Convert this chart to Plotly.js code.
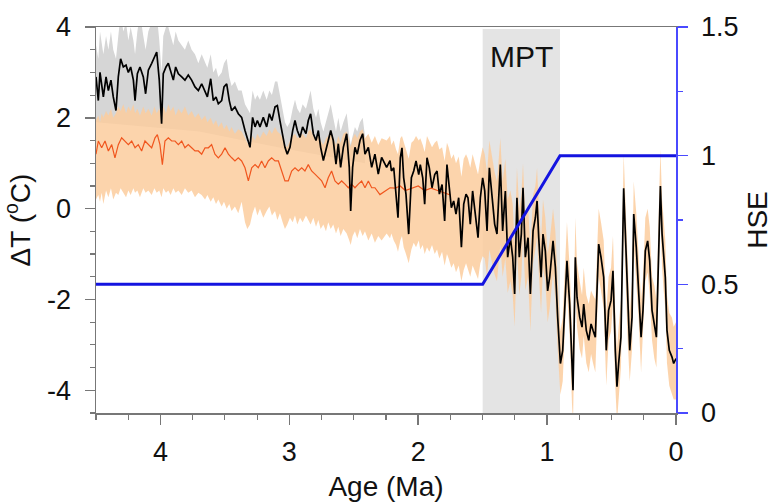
<!DOCTYPE html>
<html>
<head>
<meta charset="utf-8">
<script src="https://cdn.plot.ly/plotly-3.0.1.min.js"></script>
<style>html,body{margin:0;padding:0;background:#fff;}#chart{width:777px;height:504px;}</style>
</head>
<body>
<div id="chart"></div>
<script>
// Age (Ma) of the black reconstruction and its orange-band envelope
var ageT = [4.500,4.482,4.469,4.456,4.443,4.422,4.404,4.384,4.366,4.345,4.327,4.309,4.288,4.267,4.249,4.231,4.210,4.197,4.179,4.159,4.133,4.115,4.094,4.068,4.047,4.029,4.009,3.991,3.978,3.957,3.939,3.921,3.900,3.882,3.861,3.835,3.810,3.784,3.758,3.732,3.706,3.680,3.654,3.636,3.610,3.590,3.569,3.551,3.525,3.507,3.486,3.466,3.448,3.422,3.396,3.370,3.344,3.326,3.305,3.285,3.266,3.248,3.228,3.202,3.176,3.155,3.135,3.111,3.093,3.073,3.052,3.034,3.016,2.995,2.974,2.956,2.938,2.917,2.897,2.871,2.853,2.835,2.814,2.793,2.775,2.757,2.736,2.716,2.698,2.679,2.659,2.638,2.620,2.602,2.581,2.555,2.535,2.524,2.509,2.491,2.473,2.452,2.431,2.413,2.387,2.361,2.336,2.310,2.284,2.245,2.219,
2.208,2.190,2.172,2.157,2.139,2.126,2.113,2.095,2.074,2.053,2.035,2.017,1.996,1.984,1.965,1.950,1.932,1.914,1.893,1.872,1.854,1.836,1.815,1.795,1.777,1.764,1.743,1.725,1.707,1.686,1.665,1.647,1.629,1.614,1.596,1.578,1.557,1.536,1.518,1.500,1.484,1.466,1.448,1.427,1.407,1.389,1.363,1.345,1.324,1.306,1.285,1.267,1.252,1.234,1.216,1.200,1.187,1.169,1.148,1.130,
1.109,1.091,1.078,1.065,1.047,1.032,1.014,0.996,0.980,0.954,0.936,0.918,0.897,0.879,0.858,0.846,0.825,0.807,0.799,0.781,0.768,0.747,0.729,0.716,0.696,0.677,0.659,0.644,0.626,0.613,0.600,0.582,0.561,0.541,0.523,0.504,0.489,0.471,0.458,0.445,0.427,0.406,0.393,0.375,0.359,0.341,0.328,0.308,0.290,0.271,0.256,0.238,0.220,0.204,0.186,0.168,0.152,0.134,0.121,0.108,0.096,0.083,0.070,0.052,0.031,0.018,0.000];
// ΔT (°C) black line
var tempT = [2.90,2.38,3.00,2.75,2.46,2.90,2.60,2.83,2.46,2.16,2.90,3.30,3.12,3.16,3.00,3.12,2.83,2.38,2.97,3.12,2.90,2.53,3.05,3.20,3.34,3.45,2.83,1.87,2.97,3.12,3.20,3.05,2.83,3.12,2.97,2.90,2.83,2.94,2.83,2.68,2.60,2.75,2.60,2.46,2.86,2.38,2.46,2.31,2.38,2.68,2.75,2.38,2.16,2.24,2.09,2.01,1.72,1.57,1.35,2.01,1.80,1.94,1.80,2.01,1.80,2.09,1.94,2.24,2.27,1.94,1.65,1.35,1.20,1.35,1.72,1.94,1.72,1.57,1.80,1.65,1.94,2.09,1.65,1.50,1.72,1.35,1.06,1.28,1.50,1.72,1.50,0.98,1.43,0.91,1.35,1.65,0.91,-0.05,0.91,1.35,1.20,1.50,1.65,1.20,1.35,0.91,1.20,0.76,1.13,0.91,1.06,
0.83,0.90,0.39,-0.20,1.12,1.34,0.68,0.32,-0.56,0.68,0.83,1.05,0.75,0.97,0.68,0.10,1.12,0.90,0.46,0.75,0.83,0.32,0.53,-0.27,0.97,0.61,0.02,0.17,-0.12,0.24,-0.85,0.10,0.32,0.24,-0.34,0.39,-0.20,-0.64,0.24,0.68,0.39,-0.49,0.90,0.24,-0.34,-0.56,0.97,-0.49,0.39,-1.07,-0.64,-1.07,-1.88,0.24,-1.07,-0.56,0.46,-1.07,-0.64,-1.88,
-0.49,-0.20,0.17,-0.64,-1.51,-0.56,-0.93,-1.81,-1.51,-0.71,-1.29,-2.39,-3.41,-3.12,-1.66,-1.15,-2.10,-3.49,-4.00,-1.07,-1.95,-2.39,-2.61,-2.10,-2.68,-2.90,-2.54,-2.68,-2.83,-1.81,-0.78,-1.07,-1.51,-3.12,-2.24,-2.02,-1.37,-3.12,-3.92,-3.41,-2.83,0.45,-0.56,-2.24,-3.12,-2.39,-0.12,-0.86,-1.73,-2.83,-2.24,-0.93,-0.71,-1.15,-2.24,-2.54,-2.83,-0.93,0.50,-0.56,-1.07,-1.51,-2.68,-3.12,-3.27,-3.41,-3.30];
// upper / lower edge of the light-orange uncertainty band
var bandUp = [1.95,2.05,1.90,2.10,2.00,2.15,2.05,2.20,2.00,2.10,2.25,2.15,2.30,2.10,2.25,2.15,2.30,2.10,2.20,2.05,2.25,2.10,2.20,2.05,2.25,2.10,2.20,2.00,2.25,2.10,2.30,2.15,2.25,2.05,2.20,2.10,2.25,2.05,2.15,2.00,2.10,1.95,2.05,1.90,2.00,1.85,1.95,1.80,1.90,1.75,1.85,1.70,1.80,1.65,1.75,1.70,1.55,1.45,1.35,1.60,1.50,1.65,1.55,1.70,1.60,1.75,1.65,1.80,1.70,1.65,1.55,1.40,1.35,1.50,1.60,1.65,1.55,1.60,1.65,1.55,1.70,1.75,1.60,1.55,1.65,1.50,1.40,1.55,1.60,1.70,1.55,1.40,1.60,1.45,1.65,1.70,1.50,1.35,1.55,1.65,1.55,1.70,1.75,1.55,1.65,1.45,1.60,1.40,1.55,1.50,1.60,
1.40,1.50,1.30,1.20,1.55,1.60,1.45,1.30,1.10,1.45,1.50,1.60,1.50,1.55,1.40,1.25,1.60,1.50,1.35,1.45,1.50,1.30,1.35,1.05,1.45,1.35,1.10,1.20,1.00,1.15,0.70,1.10,1.20,1.10,0.90,1.20,0.95,0.75,1.10,1.35,1.20,0.80,1.50,1.10,0.80,0.60,1.55,0.60,1.10,0.20,0.40,0.10,-0.80,0.90,0.00,0.30,1.00,-0.20,0.10,-0.90,
0.30,0.50,0.90,0.10,-0.70,0.20,-0.20,-1.00,-0.70,0.00,-0.50,-1.60,-2.70,-2.40,-0.90,-0.30,-1.30,-2.70,-3.20,-0.20,-1.20,-1.60,-1.90,-1.30,-1.90,-2.10,-1.80,-1.90,-2.00,-1.00,0.00,-0.30,-0.70,-2.30,-1.50,-1.30,-0.60,-2.30,-3.10,-2.60,-2.00,1.20,0.20,-1.40,-2.30,-1.60,0.60,-0.10,-0.90,-2.00,-1.50,-0.20,0.00,-0.40,-1.50,-1.70,-2.00,-0.10,1.30,0.20,-0.30,-0.70,-1.90,-2.30,-2.40,-2.60,-2.50];
var bandLo = [0.20,0.30,0.15,0.35,0.10,0.40,0.25,0.45,0.20,0.35,0.30,0.45,0.35,0.25,0.40,0.30,0.45,0.35,0.40,0.25,0.45,0.35,0.40,0.30,0.45,0.35,0.40,0.25,0.45,0.35,0.40,0.30,0.45,0.35,0.40,0.30,0.45,0.35,0.40,0.25,0.35,0.30,0.20,0.30,0.15,0.25,0.10,0.20,0.05,0.15,0.00,0.10,-0.05,0.05,-0.10,0.15,-0.30,-0.45,-0.35,-0.10,0.05,-0.15,0.00,-0.20,-0.05,0.05,-0.15,-0.05,-0.25,-0.10,-0.30,-0.45,-0.35,-0.20,-0.30,-0.15,-0.35,-0.20,-0.30,-0.15,-0.25,-0.35,-0.20,-0.40,-0.25,-0.45,-0.35,-0.50,-0.30,-0.45,-0.35,-0.55,-0.40,-0.60,-0.45,-0.55,-0.70,-0.80,-0.60,-0.50,-0.65,-0.45,-0.60,-0.50,-0.70,-0.55,-0.75,-0.60,-0.70,-0.55,-0.65,
-0.55,-0.70,-0.80,-0.95,-0.70,-0.60,-0.85,-1.00,-1.20,-0.90,-0.75,-0.85,-0.70,-0.90,-0.80,-1.00,-0.85,-0.95,-0.80,-1.00,-0.90,-1.10,-0.95,-1.25,-1.00,-1.10,-1.30,-1.20,-1.40,-1.25,-1.60,-1.35,-1.20,-1.30,-1.50,-1.25,-1.40,-1.55,-1.20,-1.05,-1.10,-1.50,-0.90,-1.20,-1.45,-1.60,-0.80,-1.50,-1.10,-1.85,-1.60,-1.90,-2.60,-0.90,-1.90,-1.50,-0.60,-1.80,-1.50,-2.70,
-1.20,-0.90,-0.60,-1.40,-2.30,-1.30,-1.60,-2.50,-2.20,-1.40,-2.00,-3.10,-4.10,-3.80,-2.40,-1.80,-2.80,-4.30,-4.70,-1.80,-2.60,-3.10,-3.30,-2.80,-3.40,-3.60,-3.20,-3.40,-3.60,-2.50,-1.50,-1.80,-2.20,-3.90,-2.90,-2.70,-2.10,-3.90,-4.70,-4.10,-3.50,-0.30,-1.30,-2.90,-3.80,-3.10,-0.80,-1.60,-2.40,-3.60,-2.90,-1.60,-1.40,-1.90,-2.90,-3.30,-3.50,-1.70,-0.20,-1.30,-1.80,-2.20,-3.40,-3.90,-4.10,-4.20,-4.20];
// upper edge of the grey band around the black line (older part only)
var ageGrey = ageT.slice(0, 104);
var greyUp = [3.60,3.30,3.90,3.60,3.40,3.80,3.50,3.90,3.50,3.30,3.80,4.30,3.90,4.10,3.70,4.00,3.70,3.40,3.90,4.30,3.80,3.50,3.90,4.10,4.20,4.30,3.70,3.00,3.80,4.00,4.00,3.80,3.60,3.90,3.70,3.60,3.50,3.70,3.50,3.40,3.20,3.40,3.20,3.10,3.40,3.00,3.10,2.90,3.00,3.20,3.30,2.90,2.70,2.80,2.60,2.60,2.30,2.20,2.10,2.60,2.40,2.50,2.40,2.60,2.40,2.60,2.50,2.80,2.80,2.50,2.20,1.90,1.80,1.90,2.20,2.40,2.20,2.10,2.30,2.20,2.40,2.60,2.20,2.00,2.20,1.90,1.70,1.90,2.10,2.30,2.00,1.70,2.00,1.70,1.90,2.10,1.60,1.40,1.60,1.80,1.70,1.90,2.00,1.60];
var ageGreyLo = [2.413, 3.0, 3.7, 4.5];
var greyLo = [1.0, 1.3, 1.7, 1.9];
// orange-red reconstruction (visible part)
var ageOr = [4.500,4.482,4.456,4.430,4.404,4.378,4.353,4.327,4.301,4.275,4.249,4.223,4.197,4.172,4.146,4.120,4.094,4.068,4.042,4.024,4.004,3.985,3.965,3.939,3.913,3.887,3.861,3.835,3.810,3.784,3.758,3.732,3.706,3.680,3.654,3.628,3.603,3.577,3.551,3.525,3.499,3.473,3.447,3.422,3.396,3.370,3.344,3.318,3.292,3.266,3.241,3.215,3.189,3.163,3.137,3.111,3.085,3.060,3.034,3.008,2.982,2.956,2.930,2.904,2.879,2.853,2.827,2.801,2.775,2.749,2.723,2.698,2.672,2.646,2.620,2.594,2.568,2.542,2.517,2.491,2.465,2.439,2.413,2.387,2.361,2.336,2.297,2.258,2.219,2.18,2.14,2.10,2.05,2.00,1.95,1.90,1.85,1.80,1.75];
var tempOr = [1.20,1.49,1.34,1.49,1.27,1.41,1.12,1.41,1.56,1.49,1.41,1.49,1.34,1.41,1.27,1.49,1.41,1.34,1.56,1.63,1.41,0.97,1.49,1.56,1.49,1.49,1.41,1.49,1.34,1.41,1.34,1.27,1.27,1.20,1.34,1.34,1.41,1.20,1.12,1.20,1.34,1.20,1.12,1.05,1.12,1.05,0.90,0.61,0.90,0.97,0.90,1.05,0.90,1.05,1.12,1.05,1.05,0.83,0.61,0.61,0.83,0.90,0.83,0.90,0.83,0.97,0.83,0.76,0.68,0.61,0.46,0.68,0.83,0.61,0.54,0.61,0.54,0.46,0.54,0.46,0.54,0.61,0.46,0.61,0.46,0.46,0.31,0.39,0.46,0.45,0.50,0.40,0.45,0.50,0.40,0.45,0.40,0.35,0.30];
// HSE (right axis)
var ageHSE = [4.5, 1.5, 0.9, 0];
var hse = [0.5, 0.5, 1, 1];
// Mid-Pleistocene Transition window
var mptStart = 1.5, mptEnd = 0.9;
var xTicks = [4, 3, 2, 1, 0];
var yTicks = [-4, -2, 0, 2, 4];
var yTickText = ['-4', '-2', '0', '2', '4'];
var y2Ticks = [0, 0.5, 1, 1.5];
var y2TickText = ['0', '0.5', '1', '1.5'];

var rev = function (a) { return a.slice().reverse(); };
var traces = [
  { x: ageGrey.concat(ageGreyLo), y: greyUp.concat(greyLo), type: 'scatter', mode: 'lines',
    fill: 'toself', fillcolor: '#d6d6d6', line: { width: 0 }, hoverinfo: 'skip', showlegend: false },
  { x: ageT.concat(rev(ageT)), y: bandUp.concat(rev(bandLo)), type: 'scatter', mode: 'lines',
    fill: 'toself', fillcolor: 'rgba(251,204,158,0.85)', line: { width: 0 }, hoverinfo: 'skip', showlegend: false },
  { x: ageOr, y: tempOr, type: 'scatter', mode: 'lines', line: { color: '#f0561e', width: 1.2 }, showlegend: false },
  { x: ageT, y: tempT, type: 'scatter', mode: 'lines', line: { color: '#000000', width: 1.7 }, showlegend: false },
  { x: ageHSE, y: hse, yaxis: 'y2', type: 'scatter', mode: 'lines', line: { color: '#1414e0', width: 3 }, showlegend: false }
];

var tickFont = { family: 'Liberation Sans, Arial, sans-serif', size: 27, color: '#111' };
var layout = {
  width: 777, height: 504,
  margin: { l: 96, r: 101, t: 27, b: 91 },
  paper_bgcolor: '#fff', plot_bgcolor: '#fff',
  font: tickFont,
  xaxis: {
    range: [4.5, 0], tickvals: xTicks, ticks: 'outside', ticklen: 10, tickwidth: 1.5, tickcolor: '#777',
    showline: true, linecolor: '#777', linewidth: 1.5, mirror: true, showgrid: false, zeroline: false,
    tickfont: tickFont, ticklabelstandoff: 4,
    minor: { dtick: 0.25, tick0: 0, ticks: 'outside', ticklen: 5, tickcolor: '#777', tickwidth: 1.2, showgrid: false },
    title: { text: 'Age (Ma)', font: { family: 'Liberation Sans, Arial, sans-serif', size: 28, color: '#111' }, standoff: 10 },
    automargin: false
  },
  yaxis: {
    range: [-4.5, 4], tickvals: yTicks, ticktext: yTickText, ticks: 'outside', ticklen: 10, tickwidth: 1.5, tickcolor: '#777',
    showline: true, linecolor: '#777', linewidth: 1.5, showgrid: false, zeroline: false,
    tickfont: tickFont, ticklabelstandoff: 8,
    minor: { dtick: 0.5, tick0: 0, ticks: 'outside', ticklen: 5, tickcolor: '#777', tickwidth: 1.2, showgrid: false },
    title: { text: 'ΔT (<sup>o</sup>C)', font: { family: 'Liberation Sans, Arial, sans-serif', size: 28, color: '#111' }, standoff: 8 },
    automargin: false
  },
  yaxis2: {
    overlaying: 'y', side: 'right', range: [0, 1.5], tickvals: y2Ticks, ticktext: y2TickText,
    ticks: 'outside', ticklen: 10, tickwidth: 1.5, tickcolor: '#4a4aff',
    showline: true, linecolor: '#4a4aff', linewidth: 1.5, showgrid: false, zeroline: false,
    tickfont: tickFont, ticklabelstandoff: 8,
    minor: { dtick: 0.25, tick0: 0, ticks: 'outside', ticklen: 5, tickcolor: '#4a4aff', tickwidth: 1.2, showgrid: false },
    title: { text: 'HSE', font: { family: 'Liberation Sans, Arial, sans-serif', size: 28, color: '#111' }, standoff: 10 },
    automargin: false
  },
  shapes: [
    { type: 'rect', xref: 'x', yref: 'paper', x0: mptStart, x1: mptEnd, y0: 0, y1: 0.995,
      fillcolor: '#e4e4e4', line: { width: 0 }, layer: 'below' }
  ],
  annotations: [
    { x: (mptStart + mptEnd) / 2, y: 3.35, xref: 'x', yref: 'y', text: 'MPT', showarrow: false,
      font: { family: 'Liberation Sans, Arial, sans-serif', size: 30, color: '#111' } }
  ]
};

Plotly.newPlot('chart', traces, layout, { displayModeBar: false, staticPlot: true });
</script>
</body>
</html>
